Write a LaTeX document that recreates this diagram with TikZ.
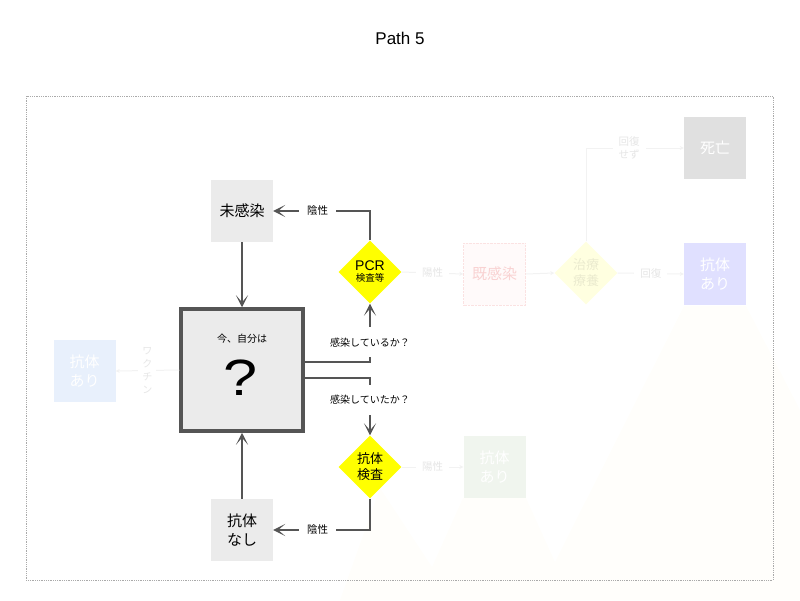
\documentclass[tikz,border=0pt]{standalone}
\usepackage{fontspec}
\setmainfont{Liberation Sans}
\newfontfamily\jp{Noto Sans CJK JP}
\usetikzlibrary{arrows.meta,shapes.geometric}
\definecolor{pgray}{HTML}{EBEBEB}
\definecolor{pdark}{HTML}{555555}
\definecolor{pyellow}{HTML}{FFFF00}
\definecolor{fline}{HTML}{F2F2F2}
\definecolor{ftext}{HTML}{E6E6E6}
\definecolor{fpink}{HTML}{F9D2D2}
\definecolor{fpinkbg}{HTML}{FFFAFA}
\definecolor{fpinkedge}{HTML}{FBE2E2}
\definecolor{fyellow}{HTML}{FFFFE0}
\definecolor{fyeltext}{HTML}{EBEBCF}
\definecolor{fpurple}{HTML}{E0E0FF}
\definecolor{fgray}{HTML}{E0E0E0}
\definecolor{fgreen}{HTML}{F0F5EE}
\definecolor{fblue}{HTML}{E8F0FC}
\definecolor{fglow}{HTML}{FFFEFB}
\definecolor{frame}{HTML}{AAAAAA}

\tikzset{
  statebox/.style={rectangle, fill=pgray, minimum size=62pt, inner sep=0pt, align=center,
    font=\jp\fontsize{15}{19}\selectfont},
  mainbox/.style={rectangle, draw=pdark, line width=3.5pt, fill=pgray, minimum size=122pt},
  testdia/.style={diamond, aspect=1, fill=pyellow, minimum size=63pt, inner sep=0pt, align=center},
  conn/.style={draw=pdark, line width=2.8pt, -{Stealth[length=12pt,width=12pt,inset=7pt]}},
  lbl/.style={fill=white, inner xsep=8pt, font=\jp\fontsize{10.5}{12}\selectfont},
  qlbl/.style={fill=white, inner xsep=2pt, inner ysep=10.5pt, font=\jp\fontsize{10}{12}\selectfont},
  fadebox/.style={rectangle, minimum size=62pt, inner sep=0pt, align=center, text=white,
    font=\jp\fontsize{15}{19}\selectfont},
  fadeconn/.style={draw=fline, line width=1pt, -{Stealth[length=4pt,width=4pt]}},
  fadelbl/.style={fill=white, text=ftext, inner sep=6pt, align=center,
    font=\jp\fontsize{10.5}{13}\selectfont},
}

\begin{document}
\begin{tikzpicture}[x=1pt, y=-1pt]
  \useasboundingbox (0,0) rectangle (800,600);

  % faint glow under the right part
  \fill[fglow] (380,488) -- (432,567) -- (463,498) -- (526,498) -- (555,562) -- (684,306)
    -- (746,306) -- (800,410) -- (800,600) -- (340,600) -- cycle;

  % title and frame
  \node[font=\fontsize{17}{20}\selectfont] (title) at (400,38) {Path 5};
  \draw[frame, line width=0.8pt, densely dotted] (26,96) rectangle (773,580);

  % faded part of the path
  \node[fadebox, fill=fpinkbg, draw=fpinkedge, densely dotted, text=fpink] (kisen) at (494.5,274) {既感染};
  \node[diamond, aspect=1, fill=fyellow, minimum size=63pt, inner sep=0pt, align=center,
    text=fyeltext, font=\jp\fontsize{13}{16}\selectfont] (chiryo) at (586,273) {治療\\療養};
  \node[fadebox, fill=fgray] (shibou) at (715,148) {死亡};
  \node[fadebox, fill=fpurple] (ariR) at (715,274) {抗体\\あり};
  \node[fadebox, fill=fgreen] (ariG) at (494.5,467) {抗体\\あり};
  \node[fadebox, fill=fblue] (ariL) at (84.5,371) {抗体\\あり};

  % current state
  \node[statebox] (mikansen) at (242,211) {未感染};
  \node[statebox] (nashi) at (242,530) {抗体\\なし};
  \node[mainbox] (main) at (242,370) {};
  \node[font=\jp\fontsize{10}{12}\selectfont] (nowlbl) at (242,339) {今、自分は};
  \node[font=\fontsize{51}{51}\selectfont] (qmark) at (241,378) {\scalebox{1.2}[1]{?}};

  % tests
  \node[testdia] (pcr) at (370,272) {{\fontsize{14}{15}\selectfont PCR}\\[-1pt]{\jp\fontsize{9.5}{11}\selectfont 検査等}};
  \node[testdia, font=\jp\fontsize{13}{16}\selectfont] (abtest) at (370,467) {抗体\\検査};

  % arrows
  \draw[conn] (mikansen) -- (main);
  \draw[conn] (nashi) -- (main);
  \draw[conn] ([yshift=8pt]main.east) -| node[qlbl, pos=0.67] {感染しているか？} (pcr.south);
  \draw[conn] ([yshift=-8pt]main.east) -| node[qlbl, pos=0.69] {感染していたか？} (abtest.north);
  \draw[conn] (pcr.north) |- node[lbl, pos=0.77] {陰性} (mikansen.east);
  \draw[conn] (abtest.south) |- node[lbl, pos=0.77] {陰性} (nashi.east);

  % faded arrows
  \draw[fadeconn] (pcr.east) -- node[fadelbl] {陽性} (kisen.west);
  \draw[fadeconn] (kisen.east) -- (chiryo.west);
  \draw[fadeconn] (chiryo.east) -- node[fadelbl] {回復} (ariR.west);
  \draw[fadeconn] (chiryo.north) |- node[fadelbl, pos=0.72] {回復\\せず} (shibou.west);
  \draw[fadeconn] (abtest.east) -- node[fadelbl] {陽性} (ariG.west);
  \draw[fadeconn] (main.west) -- node[fadelbl, inner sep=4pt, font=\jp\fontsize{10}{13}\selectfont] {ワ\\ク\\チ\\ン} (ariL.east);
\end{tikzpicture}
\end{document}
